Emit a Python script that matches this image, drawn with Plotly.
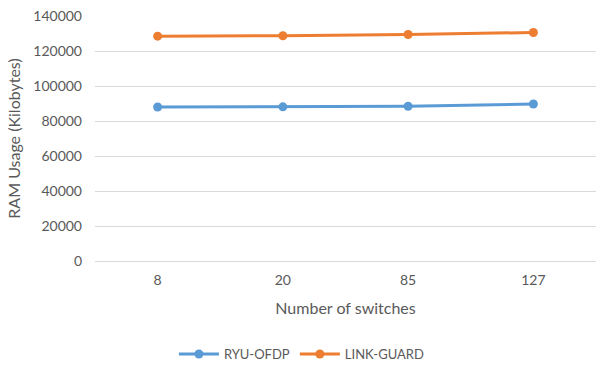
import plotly.graph_objects as go

# Category labels and RAM usage series (Kilobytes)
switches = ["8", "20", "85", "127"]
ryu_ofdp = [88000, 88100, 88400, 89700]
link_guard = [128500, 128700, 129400, 130600]
y_ticks = [0, 20000, 40000, 60000, 80000, 100000, 120000, 140000]

FONT = "Lato, Carlito, Calibri, sans-serif"
GREY = "#595959"

fig = go.Figure()
fig.add_trace(go.Scatter(
    x=switches, y=ryu_ofdp, name="RYU-OFDP", mode="lines+markers",
    line=dict(color="#5B9BD5", width=3), marker=dict(size=9, color="#5B9BD5"),
))
fig.add_trace(go.Scatter(
    x=switches, y=link_guard, name="LINK-GUARD", mode="lines+markers",
    line=dict(color="#ED7D31", width=3), marker=dict(size=9, color="#ED7D31"),
))

fig.update_layout(
    width=596, height=369,
    margin=dict(l=95, r=0, t=16, b=98),
    paper_bgcolor="white", plot_bgcolor="white",
    font=dict(family=FONT, color=GREY, size=14),
    showlegend=True,
    legend=dict(
        orientation="h", x=0.413, xanchor="center", y=-0.38, yanchor="middle",
        font=dict(size=13, color=GREY), itemwidth=40,
    ),
    xaxis=dict(
        type="category", range=[-0.5, 3.5], automargin=False,
        showgrid=False, showline=False, zeroline=False,
        ticks="", ticklabelstandoff=9,
        tickfont=dict(size=14, color=GREY),
        title=dict(text="Number of switches", font=dict(size=16, color=GREY), standoff=15),
    ),
    yaxis=dict(
        range=[0, 140000], tickvals=y_ticks, ticktext=[str(v) for v in y_ticks],
        automargin=False,
        showgrid=True, gridcolor="#D9D9D9", gridwidth=1,
        zeroline=True, zerolinecolor="#D9D9D9", zerolinewidth=1,
        showline=False, ticks="", ticklabelstandoff=12,
        tickfont=dict(size=14, color=GREY),
        title=dict(text="RAM Usage (Kilobytes)", font=dict(size=16, color=GREY), standoff=8),
    ),
)

fig.write_html("out.html")
